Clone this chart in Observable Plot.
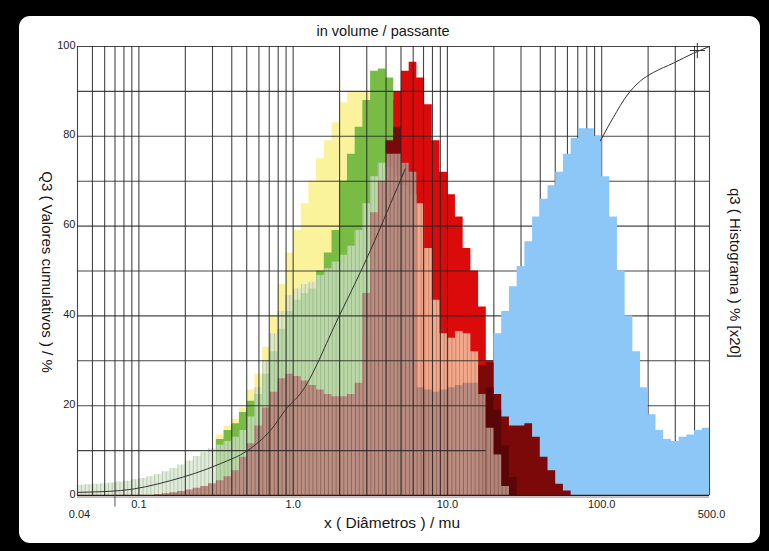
<!DOCTYPE html>
<html><head><meta charset="utf-8">
<script src="https://cdn.jsdelivr.net/npm/d3@7"></script>
<script src="https://cdn.jsdelivr.net/npm/@observablehq/plot@0.6"></script>
<style>
html,body{margin:0;padding:0;background:#000;}
#wrap{position:relative;width:769px;height:551px;background:#000;overflow:hidden;font-family:"Liberation Sans",Arial,sans-serif;}
#panel{position:absolute;left:19px;top:16px;width:741px;height:527px;background:#fff;border-radius:11px;}
.lbl{position:absolute;color:#151515;white-space:nowrap;transform:translate(-50%,-50%);}
.rot{transform:translate(-50%,-50%) rotate(90deg);}
#chart{position:absolute;left:0;top:0;}
</style></head><body>
<div id="wrap">
<div id="panel"></div>
<div id="chart"></div>
<div class="lbl" style="left:383px;top:31px;font-size:14.5px;">in volume / passante</div>
<div class="lbl" style="left:392px;top:523px;font-size:15.5px;">x ( Diâmetros ) / mu</div>
<div class="lbl rot" style="left:47px;top:272px;font-size:15px;">Q3 ( Valores cumulativos ) / %</div>
<div class="lbl rot" style="left:735px;top:273px;font-size:15px;">q3 ( Histograma ) % [x20]</div>
</div>
<script>
// ---- data ----
// bins: 20 per decade starting at 0.04 µm
const binsPerDecade = 20;
const firstEdge = 0.04;

const yellowStart = 18;
const yellowValues = [13.5, 15.5, 17, 19.5, 23.5, 27, 33, 40, 47, 54, 59, 65, 70, 75, 79, 83, 87.5, 90, 90, 90, 85, 75, 60, 40, 20];

const greenStart = 18;
const greenValues = [12.5, 14.5, 16, 18.5, 21, 22.5, 27, 32, 37, 41, 43.5, 45, 46, 50, 54, 59, 70, 76, 82, 88, 94.5, 95, 93, 88, 78, 62, 45, 28];

const redStart = 36;
const redValues = [20, 35, 50, 62, 70, 90, 94.5, 96.5, 93, 87, 79, 72, 67, 62, 55, 50, 42, 30];

const darkredStart = 40;
const darkredValues = [79, 82, 72, 40, 20, 20, 20, 20, 20, 20, 20, 22, 29, 29.5, 22.5, 17.5, 15.5, 15.5, 16, 13, 8.5, 5.5, 2.5, 1];

const maroonStart = 53;
const maroonValues = [24, 19, 11, 4];

const paleStart = 0;
const paleValues = [2.3, 2.4, 2.5, 2.6, 2.8, 3.0, 3.2, 3.5, 3.8, 4.2, 4.7, 5.3, 6.0, 6.8, 7.7, 8.7, 9.6, 10.4, 11.2, 12, 13, 14.5, 17.5, 24, 30, 36, 41, 44.5, 46, 47, 47.5, 49, 50.5, 52, 53.5, 55.5, 59, 65, 71, 74, 73, 71, 69, 67];

const salmonStart = 44;
const salmonValues = [65, 55, 43.5, 36, 35, 36.5, 36, 32];

const brownStart = 10;
const brownValues = [0.2, 0.4, 0.6, 0.9, 1.2, 1.6, 2.0, 2.6, 3.3, 4.2, 5.5, 8.5, 11.5, 15.5, 19.5, 23, 26, 27, 26.5, 25.5, 24.5, 23.5, 22.5, 22, 22, 22.5, 25, 45, 63, 70, 76, 76, 74, 72, 24, 23.5, 23, 23.5, 24, 24.5, 25, 25, 22.5, 15, 9, 2];

const blueStart = 54;
const blueValues = [36, 41, 46.5, 51, 56.5, 62, 66, 69, 72, 76, 79.5, 81.7, 81.7, 80, 71, 62, 50, 40, 32, 24, 18, 14.5, 12.5, 12, 13, 13.5, 14.5, 15];

// cumulative curves (x in µm, Q3 in %)
const cumFineX = [0.04, 0.0762, 0.16, 0.338, 0.506, 0.713, 0.918, 1.115, 1.964, 3.17, 4.74, 5.34];
const cumFineY = [0.7, 1.1, 3.3, 7.1, 10, 14.5, 19.6, 22.7, 39.6, 54.6, 68.6, 72.8];
const cumCoarseX = [98.1, 119, 146.6, 178, 216, 292, 393, 500];
const cumCoarseY = [79, 84.2, 89.2, 92.3, 94.2, 96.3, 98.5, 100];
const markerX = [417];
const markerY = [99.1];

// grid and ticks
const gridX = [0.04, 0.05, 0.06, 0.07, 0.08, 0.09,
  0.1, 0.2, 0.3, 0.4, 0.5, 0.6, 0.7, 0.8, 0.9,
  1, 2, 3, 4, 5, 6, 7, 8, 9,
  10, 20, 30, 40, 50, 60, 70, 80, 90,
  100, 200, 300, 400, 500];
const gridY = [0, 10, 20, 30, 40, 50, 60, 70, 80, 90, 100];
const yTickValues = [0, 20, 40, 60, 80, 100];
const yTickLabels = ["0", "20", "40", "60", "80", "100"];
const xTickValues = [0.1, 1, 10, 100];
const xTickLabels = ["0.1", "1.0", "10.0", "100.0"];
const xEndValues = [0.04, 500];
const xEndLabels = ["0.04", "500.0"];

// ---- build ----
const xMax = 500;
const edge = i => Math.min(firstEdge * Math.pow(10, i / binsPerDecade), xMax);
function steps(start, values) {
  const pts = values.map((v, k) => ({x: edge(start + k), y: v}));
  pts.push({x: edge(start + values.length), y: values[values.length - 1]});
  return pts;
}
function tail(start, values, from) {
  return steps(from, values.slice(from - start));
}
const pts = (xs, ys) => xs.map((x, i) => ({x, y: ys[i]}));

const area = (data, opts) => Plot.areaY(data, {x: "x", y: "y", curve: "step-after", ...opts});
const gridColor = "#262626";
const gridMarks = () => [
  Plot.ruleX(gridX, {y1: 0, y2: 100, stroke: gridColor, strokeWidth: 1.1, strokeOpacity: 0.85}),
  Plot.ruleY(gridY, {x1: 0.04, x2: 500, stroke: gridColor, strokeWidth: 1.1, strokeOpacity: 0.85})
];

const svg = Plot.plot({
  width: 769,
  height: 551,
  marginLeft: 77,
  marginRight: 60,
  marginTop: 46,
  marginBottom: 56,
  style: {background: "transparent", fontFamily: "'Liberation Sans', Arial, sans-serif", overflow: "visible"},
  x: {type: "log", domain: [0.04, 500], axis: null},
  y: {domain: [0, 100], axis: null},
  marks: [
    area(steps(yellowStart, yellowValues), {fill: "#fbf29c"}),
    area(steps(greenStart, greenValues), {fill: "#78bc45"}),
    area(steps(redStart, redValues), {fill: "#db0b0b"}),
    area(steps(darkredStart, darkredValues), {fill: "#7c0909"}),
    area(steps(maroonStart, maroonValues), {fill: "#5a0606"}),
    area(steps(paleStart, paleValues), {fill: "#d4e3cc", fillOpacity: 0.72}),
    area(steps(paleStart, paleValues), {fill: "#010101"}),
    area(steps(salmonStart, salmonValues), {fill: "#f1a88b"}),
    area(steps(salmonStart, salmonValues), {fill: "#030303"}),
    area(steps(brownStart, brownValues), {fill: "#b78b7f", fillOpacity: 0.95}),
    area(steps(brownStart, brownValues), {fill: "#020202"}),
    ...gridMarks(),
    area(steps(blueStart, blueValues), {fill: "#8cc7f8"}),
    area(tail(darkredStart, darkredValues, 53), {fill: "#7c0909"}),
    area(steps(maroonStart, maroonValues), {fill: "#5a0606"}),
    area(tail(brownStart, brownValues, 53), {fill: "#b78b7f", fillOpacity: 0.95}),
    area(tail(brownStart, brownValues, 53), {fill: "#020202"}),
    Plot.ruleY([0], {stroke: "#8cc7f8", strokeWidth: 1.2, dy: 2}),
    Plot.ruleY([0], {stroke: "#3a1510", strokeWidth: 1.6}),
    Plot.ruleX([0.07], {y1: 0, y2: -2.6, stroke: "#555", strokeWidth: 1}),
    Plot.line(pts(cumFineX, cumFineY), {x: "x", y: "y", curve: "monotone-x", stroke: "#333", strokeWidth: 1}),
    Plot.line(pts(cumCoarseX, cumCoarseY), {x: "x", y: "y", curve: "monotone-x", stroke: "#333", strokeWidth: 1}),
    Plot.dot(pts(markerX, markerY), {x: "x", y: "y", symbol: "plus", r: 5, stroke: "#333", strokeWidth: 1}),
    Plot.text(yTickValues, {y: d => d, frameAnchor: "left", text: (d, i) => yTickLabels[i], textAnchor: "end", lineAnchor: "bottom", dx: -2, dy: 2, fontSize: 11, fill: "#222"}),
    Plot.text(xTickValues, {x: d => d, frameAnchor: "bottom", text: (d, i) => xTickLabels[i], dy: 12, fontSize: 11, fill: "#222"}),
    Plot.text(xEndValues, {x: d => d, frameAnchor: "bottom", text: (d, i) => xEndLabels[i], dy: 22, dx: 2, fontSize: 11, fill: "#222"})
  ]
});

// hatch patterns for the finely binned layers
const defs = d3.select(svg).insert("defs", ":first-child");
function hatch(id, color) {
  const p = defs.append("pattern").attr("id", id).attr("patternUnits", "userSpaceOnUse")
    .attr("x", 77).attr("y", 0).attr("width", 3.86).attr("height", 10);
  p.append("rect").attr("x", 0).attr("y", 0).attr("width", 0.9).attr("height", 10).attr("fill", color);
}
hatch("hpale", "rgba(110,135,105,0.4)");
hatch("hbrown", "rgba(85,40,30,0.42)");
hatch("hsalmon", "rgba(150,70,50,0.4)");
d3.select(svg).selectAll('[fill="#010101"]').attr("fill", "url(#hpale)");
d3.select(svg).selectAll('[fill="#020202"]').attr("fill", "url(#hbrown)");
d3.select(svg).selectAll('[fill="#030303"]').attr("fill", "url(#hsalmon)");

document.getElementById("chart").appendChild(svg);
</script>
</body></html>
